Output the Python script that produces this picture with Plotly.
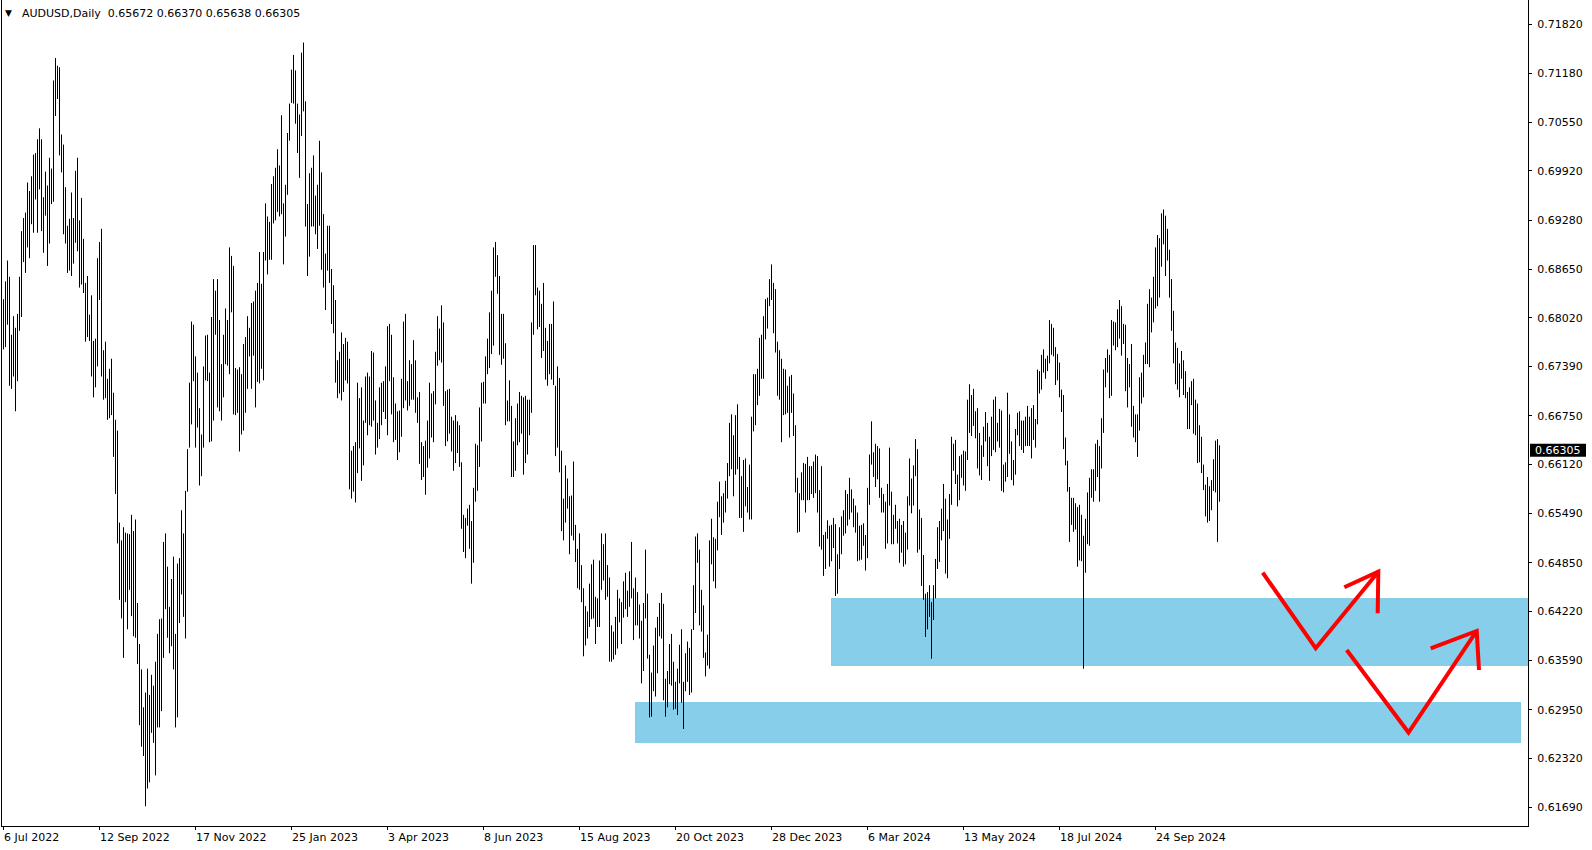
import plotly.graph_objects as go

# ---- Data (AUDUSD daily, price in pips: 6826 -> 0.6826) ----
HIGH_PIPS = [
6826,6849,6876,6855,6780,6804,6789,6807,6855,6914,
6931,6938,6977,6966,6985,7013,7015,7033,7047,7033,
6958,6991,6973,7009,6995,7109,7138,7128,7126,7039,
7026,6971,6921,6930,6964,6931,6992,7009,6928,6957,
6904,6847,6856,6806,6831,6772,6775,6879,6900,6917,
6760,6771,6723,6736,6749,6705,6670,6656,6537,6514,
6531,6524,6523,6522,6547,6526,6541,6433,6380,6347,
6298,6317,6348,6314,6340,6326,6357,6393,6412,6413,
6512,6523,6480,6428,6464,6493,6393,6484,6491,6553,
6523,6578,6632,6718,6797,6793,6752,6731,6685,6651,
6739,6779,6780,6731,6803,6852,6837,6852,6799,6742,
6780,6814,6799,6893,6882,6869,6737,6735,6738,6729,
6768,6777,6804,6789,6821,6823,6837,6847,6887,6846,
6887,6950,6933,6926,6975,6985,6996,7020,6999,7064,
6950,6974,7041,7079,7123,7142,7122,7079,7065,7145,
7158,7082,6949,6989,6996,7012,6960,6974,7031,6990,
6936,6885,6921,6921,6865,6844,6825,6747,6758,6783,
6768,6776,6771,6749,6630,6636,6641,6718,6698,6712,
6669,6726,6731,6726,6759,6757,6695,6666,6712,6718,
6720,6739,6791,6794,6780,6725,6691,6681,6682,6723,
6797,6807,6720,6747,6742,6773,6747,6699,6706,6641,
6636,6643,6669,6718,6704,6707,6758,6804,6788,6818,
6796,6707,6709,6710,6674,6669,6676,6668,6663,6615,
6547,6543,6555,6560,6539,6582,6639,6637,6686,6718,
6719,6752,6775,6809,6837,6893,6900,6883,6856,6807,
6807,6769,6695,6721,6688,6642,6672,6691,6706,6701,
6699,6701,6696,6696,6796,6896,6896,6841,6837,6820,
6847,6789,6772,6794,6794,6823,6714,6739,6724,6630,
6568,6611,6594,6571,6572,6616,6534,6503,6523,6482,
6452,6429,6422,6458,6483,6489,6441,6439,6488,6523,
6509,6523,6482,6466,6404,6396,6415,6450,6439,6434,
6461,6472,6449,6474,6512,6452,6466,6447,6431,6410,
6433,6502,6445,6366,6343,6378,6401,6415,6433,6446,
6432,6335,6345,6380,6393,6357,6331,6348,6379,6399,
6331,6368,6383,6375,6399,6456,6519,6523,6502,6450,
6430,6369,6392,6514,6542,6518,6516,6564,6590,6571,
6575,6591,6614,6666,6677,6650,6676,6690,6622,6597,
6618,6620,6583,6612,6674,6729,6729,6736,6776,6780,
6804,6826,6828,6852,6871,6847,6839,6771,6760,6749,
6736,6735,6714,6726,6728,6704,6663,6595,6575,6602,
6614,6613,6622,6610,6610,6616,6625,6623,6579,6610,
6521,6525,6540,6533,6534,6543,6535,6496,6531,6545,
6553,6579,6574,6595,6580,6568,6559,6550,6533,6534,
6536,6521,6582,6625,6668,6628,6639,6636,6633,6582,
6574,6564,6587,6634,6577,6547,6560,6539,6542,6534,
6539,6524,6571,6620,6594,6611,6645,6632,6554,6543,
6495,6445,6447,6456,6434,6456,6490,6531,6539,6555,
6587,6568,6541,6574,6648,6639,6644,6599,6623,6625,
6630,6629,6696,6716,6702,6710,6681,6685,6653,6637,
6661,6680,6666,6648,6674,6696,6700,6666,6684,6682,
6612,6615,6705,6677,6642,6618,6658,6679,6681,6669,
6669,6674,6688,6674,6685,6689,6671,6735,6733,6754,
6761,6749,6753,6799,6794,6789,6764,6755,6744,6709,
6702,6647,6617,6583,6569,6569,6562,6557,6560,6547,
6520,6542,6576,6595,6606,6606,6639,6644,6636,6672,
6735,6750,6761,6754,6799,6797,6796,6813,6825,6817,
6794,6793,6750,6742,6768,6688,6677,6677,6725,6731,
6754,6770,6820,6839,6828,6855,6893,6909,6905,6937,
6942,6934,6917,6890,6852,6811,6770,6763,6743,6759,
6747,6733,6706,6712,6720,6723,6696,6691,6663,6648,
6612,6586,6596,6584,6592,6619,6643,6645,6637]

LOW_PIPS = [
6761,6764,6793,6714,6710,6726,6681,6720,6785,6803,
6874,6860,6893,6879,6923,6912,6955,6912,6968,6914,
6886,6934,6869,6898,6949,6952,7063,7085,7012,6990,
6910,6898,6860,6863,6856,6872,6899,6888,6841,6845,
6834,6771,6777,6772,6726,6699,6712,6739,6825,6726,
6696,6698,6670,6672,6676,6622,6574,6510,6437,6413,
6362,6434,6399,6450,6416,6390,6388,6354,6275,6247,
6235,6170,6193,6201,6265,6252,6210,6272,6272,6293,
6362,6425,6388,6368,6377,6347,6272,6285,6407,6444,
6415,6387,6577,6634,6664,6720,6634,6660,6585,6597,
6634,6721,6720,6641,6642,6669,6780,6686,6681,6669,
6699,6742,6740,6729,6809,6677,6676,6679,6629,6651,
6656,6679,6710,6752,6710,6753,6686,6719,6717,6736,
6721,6876,6858,6877,6877,6924,6928,6939,6933,6936,
6871,6907,6961,7031,7080,7079,7053,7015,6983,7037,
7069,6920,6856,6881,6920,6920,6910,6891,6921,6864,
6841,6812,6863,6847,6794,6782,6718,6698,6704,6695,
6706,6721,6717,6580,6568,6577,6563,6601,6633,6591,
6611,6666,6650,6663,6661,6669,6625,6634,6645,6663,
6680,6671,6650,6720,6677,6641,6644,6618,6628,6648,
6685,6695,6682,6688,6696,6696,6679,6666,6613,6592,
6596,6573,6608,6620,6647,6641,6690,6740,6747,6744,
6688,6636,6642,6652,6629,6604,6614,6627,6609,6529,
6499,6491,6533,6503,6458,6485,6564,6578,6609,6642,
6691,6691,6729,6737,6755,6766,6855,6833,6754,6741,
6749,6663,6668,6668,6596,6596,6604,6637,6641,6652,
6599,6614,6625,6650,6679,6780,6831,6787,6790,6750,
6759,6722,6714,6729,6722,6715,6623,6634,6602,6526,
6514,6537,6555,6496,6520,6514,6486,6452,6450,6434,
6364,6378,6387,6402,6412,6413,6380,6402,6402,6450,
6462,6437,6441,6357,6357,6360,6366,6374,6408,6380,
6414,6425,6415,6428,6439,6385,6404,6404,6387,6329,
6345,6413,6361,6285,6286,6319,6312,6342,6390,6387,
6307,6286,6298,6328,6326,6295,6296,6288,6329,6304,
6270,6319,6331,6314,6317,6398,6420,6485,6404,6396,
6362,6338,6352,6348,6483,6461,6452,6501,6544,6521,
6537,6550,6568,6597,6606,6571,6599,6606,6543,6543,
6525,6558,6550,6541,6541,6655,6663,6689,6701,6723,
6723,6774,6788,6817,6825,6782,6757,6701,6696,6641,
6676,6677,6679,6647,6679,6649,6576,6524,6525,6566,
6566,6550,6566,6566,6574,6569,6575,6550,6506,6502,
6468,6477,6516,6480,6487,6504,6442,6445,6477,6496,
6520,6523,6533,6541,6550,6531,6524,6487,6488,6489,
6507,6475,6491,6560,6612,6596,6583,6593,6569,6550,
6550,6503,6510,6559,6509,6509,6529,6510,6485,6498,
6480,6483,6502,6559,6549,6559,6597,6498,6502,6455,
6437,6389,6399,6415,6361,6411,6439,6477,6486,6514,
6526,6471,6465,6516,6560,6604,6587,6558,6566,6595,
6585,6578,6618,6653,6649,6662,6646,6607,6598,6592,
6622,6642,6610,6591,6623,6631,6628,6642,6634,6578,
6576,6590,6596,6626,6592,6585,6599,6650,6636,6631,
6627,6636,6636,6636,6620,6644,6634,6664,6704,6709,
6731,6723,6733,6743,6754,6752,6715,6721,6699,6680,
6632,6611,6577,6512,6534,6525,6528,6480,6488,6487,
6348,6472,6509,6507,6569,6564,6578,6596,6564,6607,
6653,6712,6731,6698,6701,6766,6760,6764,6775,6753,
6768,6707,6686,6712,6661,6647,6641,6622,6656,6691,
6699,6742,6742,6738,6783,6796,6814,6817,6828,6868,
6897,6856,6876,6828,6785,6743,6716,6709,6699,6723,
6702,6698,6658,6658,6689,6652,6650,6614,6615,6601,
6579,6545,6537,6539,6553,6578,6576,6512,6564]

assert len(HIGH_PIPS) == len(LOW_PIPS), (len(HIGH_PIPS), len(LOW_PIPS))

X_TICK_IDX = [0, 48, 96, 144, 192, 240, 288, 336, 384, 432, 480, 528, 576]
X_TICK_LABELS = ["6 Jul 2022", "12 Sep 2022", "17 Nov 2022", "25 Jan 2023", "3 Apr 2023",
                 "8 Jun 2023", "15 Aug 2023", "20 Oct 2023", "28 Dec 2023", "6 Mar 2024",
                 "13 May 2024", "18 Jul 2024", "24 Sep 2024"]
Y_TICKS = [0.71820, 0.71180, 0.70550, 0.69920, 0.69280, 0.68650, 0.68020, 0.67390,
           0.66750, 0.66120, 0.65490, 0.64850, 0.64220, 0.63590, 0.62950, 0.62320, 0.61690]

SYMBOL = "AUDUSD,Daily"
LAST_OHLC = [0.65672, 0.66370, 0.65638, 0.66305]

# support zones: (x start index, x end index or None = right edge, top price, bottom price)
ZONES = [(413.75, None, 0.64394, 0.63515),
         (315.75, 758.75, 0.63049, 0.62519)]

# hand-drawn red arrows: polyline (index, price) and arrow head
ARROWS = [
    dict(line=[(629.6, 0.64722), (656.1, 0.63744), (687.4, 0.64735)],
         head=[(670.4, 0.64533), (687.4, 0.64735), (687.1, 0.64197)]),
    dict(line=[(671.6, 0.63722), (702.5, 0.62654), (736.6, 0.63968)],
         head=[(713.6, 0.63744), (736.6, 0.63968), (737.75, 0.63463)]),
]

highs = [v / 10000 for v in HIGH_PIPS]
lows = [v / 10000 for v in LOW_PIPS]

# ---- layout geometry ----
W, H = 1592, 850
ML, MR, MT, MB = 2, 64, 0, 24
PX_PER_PRICE = 7730.0
Y_MAX = 0.7182 + 24 / PX_PER_PRICE
Y_MIN = Y_MAX - (H - MT - MB) / PX_PER_PRICE
X_MIN, X_MAX = -0.75, 762.25
FONT = "DejaVu Sans"

xs, ys = [], []
for i, (hv, lv) in enumerate(zip(highs, lows)):
    xs += [i, i, None]
    ys += [hv, lv, None]

fig = go.Figure()
fig.add_trace(go.Scatter(x=xs, y=ys, mode="lines", line=dict(color="black", width=1),
                         hoverinfo="skip", showlegend=False, connectgaps=False))

shapes = []
for x0, x1, top, bot in ZONES:
    shapes.append(dict(type="rect", xref="x", yref="y", x0=x0,
                       x1=(X_MAX if x1 is None else x1), y0=bot, y1=top,
                       fillcolor="#87CEEB", line=dict(width=0), layer="below"))

def path_of(pts):
    return "M " + " L ".join(f"{x},{y}" for x, y in pts)

for a in ARROWS:
    shapes.append(dict(type="path", xref="x", yref="y", path=path_of(a["line"]),
                       line=dict(color="#FF0000", width=4), layer="above"))
    shapes.append(dict(type="path", xref="x", yref="y", path=path_of(a["head"]),
                       line=dict(color="#FF0000", width=4), layer="above"))

# current price box on the price axis
last_close = LAST_OHLC[3]
plot_w = W - ML - MR
half_h = 6.5 / PX_PER_PRICE
shapes.append(dict(type="rect", xref="paper", yref="y", x0=1 + 2 / plot_w, x1=1 + 58 / plot_w,
                   y0=last_close - half_h, y1=last_close + half_h,
                   fillcolor="black", line=dict(width=0), layer="above"))

annotations = []
for idx, lab in zip(X_TICK_IDX, X_TICK_LABELS):
    annotations.append(dict(x=idx, y=0, xref="x", yref="paper", text=lab, showarrow=False,
                            xanchor="left", yanchor="top", xshift=-2, yshift=-3,
                            font=dict(family=FONT, size=11, color="black")))

annotations.append(dict(x=1 + 30 / plot_w, y=last_close, xref="paper", yref="y",
                        text=f"{last_close:.5f}", showarrow=False, xanchor="center", yanchor="middle",
                        font=dict(family=FONT, size=11, color="white")))

plot_h = H - MT - MB
title_text = SYMBOL + "\u00a0\u00a0" + " ".join(f"{v:.5f}" for v in LAST_OHLC)
annotations.append(dict(x=(19.5 - ML) / plot_w, y=1 - 13.5 / plot_h, xref="paper", yref="paper",
                        text=title_text, showarrow=False, xanchor="left", yanchor="middle",
                        font=dict(family=FONT, size=11, color="black")))
annotations.append(dict(x=(8.3 - ML) / plot_w, y=1 - 13 / plot_h, xref="paper", yref="paper",
                        text="\u25BC", showarrow=False, xanchor="center", yanchor="middle",
                        font=dict(family=FONT, size=9, color="black")))

fig.update_layout(
    width=W, height=H,
    margin=dict(l=ML, r=MR, t=MT, b=MB, pad=0),
    paper_bgcolor="white", plot_bgcolor="white",
    showlegend=False,
    shapes=shapes, annotations=annotations,
    xaxis=dict(range=[X_MIN, X_MAX], tickvals=X_TICK_IDX, showticklabels=False,
               ticks="outside", ticklen=3, tickcolor="black", tickwidth=1,
               showline=True, linecolor="black", linewidth=1, mirror=False,
               showgrid=False, zeroline=False, fixedrange=True),
    yaxis=dict(range=[Y_MIN, Y_MAX], side="right", tickvals=Y_TICKS,
               ticktext=[f"{v:.5f}" for v in Y_TICKS],
               ticks="outside", ticklen=3, tickcolor="black", tickwidth=1,
               ticklabelstandoff=3,
               showline=True, linecolor="black", linewidth=1, mirror=True,
               showgrid=False, zeroline=False, fixedrange=True,
               tickfont=dict(family=FONT, size=11, color="black")),
)

fig.write_html(
    "out.html",
    config={"displayModeBar": False},
    post_script=("document.body.style.margin='0px';"
                 "document.body.style.padding='0px';"
                 "document.documentElement.style.overflow='hidden';"
                 "document.body.style.overflow='hidden';"),
)
